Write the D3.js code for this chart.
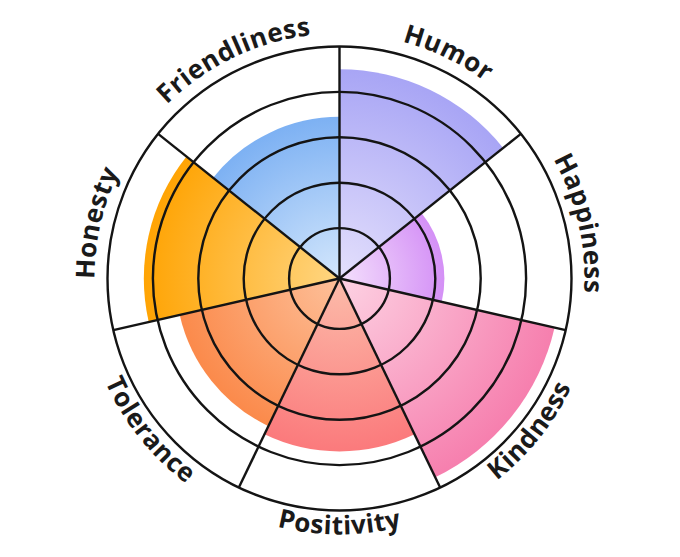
<!DOCTYPE html>
<html>
<head>
<meta charset="utf-8">
<script src="https://cdn.jsdelivr.net/npm/d3@7"></script>
<style>
  html, body { margin: 0; padding: 0; background: #fff; }
  text { font-family: "Open Sans", "Noto Sans", sans-serif; font-weight: 700; }
</style>
</head>
<body>
<script>
// categories clockwise from 12 o'clock
const categories = ["Humor", "Happiness", "Kindness", "Positivity", "Tolerance", "Honesty", "Friendliness"];
const values = [90, 44, 95, 74, 70, 84, 69];
const innerColors = ["#e4e0fc", "#f4e0fc", "#fdd2e3", "#fcbcaa", "#fdc09a", "#ffd682", "#d4e7fc"];
const outerColors = ["#a8a5f5", "#d490f6", "#f67fae", "#fb7a7c", "#fb8a4b", "#ffa404", "#7db1f3"];
const rings = [20, 40, 60, 80, 100];

const width = 680, height = 557;
const cx = 339.5, cy = 278.5;

const svg = d3.select("body").append("svg")
  .attr("width", width).attr("height", height);

const r = d3.scaleLinear().domain([0, 100]).range([5, 232]);
const step = 2 * Math.PI / categories.length;

const defs = svg.append("defs");
const g = svg.append("g").attr("transform", `translate(${cx},${cy})`);

// gradients, one per sector
categories.forEach((c, i) => {
  const grad = defs.append("radialGradient")
    .attr("id", "grad" + i)
    .attr("gradientUnits", "userSpaceOnUse")
    .attr("cx", 0).attr("cy", 0).attr("r", r(values[i]));
  grad.append("stop").attr("offset", "0%").attr("stop-color", innerColors[i]);
  grad.append("stop").attr("offset", "100%").attr("stop-color", outerColors[i]);
});

const arc = d3.arc()
  .innerRadius(0)
  .outerRadius(d => r(d.v))
  .startAngle(d => d.i * step)
  .endAngle(d => (d.i + 1) * step);

g.selectAll("path.sector")
  .data(values.map((v, i) => ({ v, i })))
  .join("path")
  .attr("class", "sector")
  .attr("d", arc)
  .attr("fill", d => `url(#grad${d.i})`);

// rings
g.selectAll("circle.ring")
  .data(rings)
  .join("circle")
  .attr("class", "ring")
  .attr("r", d => r(d))
  .attr("fill", "none")
  .attr("stroke", "#141414")
  .attr("stroke-width", 2.4);

// spokes
g.selectAll("line.spoke")
  .data(categories)
  .join("line")
  .attr("class", "spoke")
  .attr("x1", 0).attr("y1", 0)
  .attr("x2", (d, i) => r(100) * Math.sin(i * step))
  .attr("y2", (d, i) => -r(100) * Math.cos(i * step))
  .attr("stroke", "#141414")
  .attr("stroke-width", 2.4);

// curved labels
const pt = (a, rad) => [rad * Math.sin(a), -rad * Math.cos(a)];
categories.forEach((c, i) => {
  const a0 = i * step, a1 = (i + 1) * step;
  const mid = (a0 + a1) / 2;
  let d;
  if (Math.cos(mid) > 0) {
    const rad = 245;
    const p0 = pt(a0, rad), p1 = pt(a1, rad);
    d = `M${p0[0]},${p0[1]} A${rad},${rad} 0 0 1 ${p1[0]},${p1[1]}`;
  } else {
    const rad = 256;
    const p0 = pt(a1, rad), p1 = pt(a0, rad);
    d = `M${p0[0]},${p0[1]} A${rad},${rad} 0 0 0 ${p1[0]},${p1[1]}`;
  }
  defs.append("path").attr("id", "lab" + i).attr("d", d);
  g.append("text")
    .attr("font-size", 26)
    .attr("letter-spacing", 0.5)
    .attr("fill", "#1a1a1a")
    .append("textPath")
    .attr("href", "#lab" + i)
    .attr("startOffset", "50%")
    .attr("text-anchor", "middle")
    .text(c);
});
</script>
</body>
</html>
